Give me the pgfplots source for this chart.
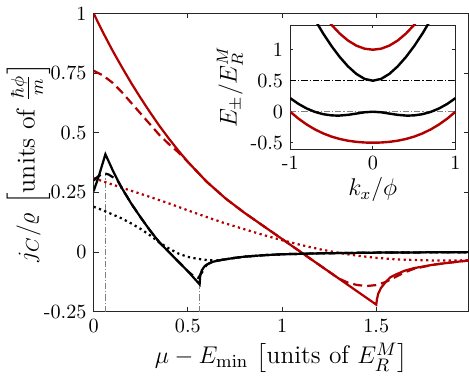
\documentclass[border=0pt]{standalone}
\usepackage{amsmath}
\usepackage{pgfplots}
\pgfplotsset{compat=1.18}
\definecolor{mred}{RGB}{178,0,0}
\definecolor{axgray}{RGB}{38,38,38}

\pgfplotsset{
  mstyle/.style={
    scale only axis, axis line style={axgray, line width=0.4pt},
    tick align=inside, tick pos=both,
    xticklabel pos=lower, yticklabel pos=left,
    major tick style={axgray, line width=0.4pt},
    label style={font=\large},
    every tick label/.append style={font=\normalsize},
  },
  dotline/.style={line width=1.1pt, dash pattern=on 1.1pt off 1.7pt},
  dashline/.style={line width=1.1pt, dash pattern=on 4.5pt off 2.5pt},
  solline/.style={line width=1.1pt},
  ddline/.style={line width=0.4pt, dash pattern=on 3pt off 1pt on 0.6pt off 1pt},
}

\begin{document}
\begin{tikzpicture}
\begin{axis}[mstyle,
  at={(0,0)}, anchor=south west,
  width=186pt, height=148pt,
  xmin=0, xmax=1.99, ymin=-0.25, ymax=1,
  major tick length=2.5pt,
  xtick={0,0.5,1,1.5}, xticklabels={0,0.5,1,1.5},
  ytick={-0.25,0,0.25,0.5,0.75,1}, yticklabels={-0.25,0,0.25,0.5,0.75,1},
  xlabel={$\mu-E_{\min}$ $\left[\text{units of } E_R^M\right]$},
  ylabel={$j_C/\varrho$ $\left[\text{units of } \frac{\hbar\phi}{m}\right]$},
  xlabel style={font=\fontsize{12.6}{15}\selectfont, yshift=2pt},
  ylabel style={font=\fontsize{12.8}{15}\selectfont, yshift=-10pt},
]
% vertical markers
\addplot[ddline, gray] coordinates {(0.0625,-0.25) (0.0625,0.33)};
\addplot[ddline, gray] coordinates {(0.5625,-0.25) (0.5625,-0.135)};

% red curves
\addplot[solline, mred] coordinates {
(0,1.0) (0.05,0.92) (0.1,0.845) (0.15,0.775) (0.2,0.708) (0.25,0.645)
(0.3,0.585) (0.35,0.528) (0.4,0.475) (0.45,0.425) (0.5,0.378) (0.6,0.295)
(0.7,0.225) (0.8,0.165) (0.9,0.11) (1.0,0.055) (1.1,0.0) (1.2,-0.055)
(1.3,-0.11) (1.4,-0.165) (1.5,-0.22) (1.503,-0.2) (1.51,-0.175)
(1.525,-0.15) (1.55,-0.125) (1.575,-0.105) (1.6,-0.095) (1.65,-0.078)
(1.7,-0.067) (1.8,-0.053) (1.9,-0.043) (1.99,-0.035)};
\addplot[dashline, mred] coordinates {
(0,0.76) (0.05,0.74) (0.1,0.71) (0.15,0.67) (0.2,0.625) (0.25,0.58)
(0.3,0.535) (0.35,0.49) (0.4,0.452) (0.45,0.418) (0.5,0.378) (0.6,0.295)
(0.7,0.225) (0.8,0.165) (0.9,0.11) (1.0,0.055) (1.1,0.0) (1.2,-0.055)
(1.3,-0.11) (1.35,-0.128) (1.4,-0.138) (1.45,-0.142) (1.5,-0.138)
(1.55,-0.125) (1.6,-0.105) (1.65,-0.085) (1.7,-0.07) (1.8,-0.053)
(1.9,-0.043) (1.99,-0.035)};
\addplot[dotline, mred] coordinates {
(0,0.31) (0.1,0.283) (0.2,0.257) (0.3,0.231) (0.4,0.204) (0.5,0.175)
(0.6,0.147) (0.7,0.12) (0.8,0.096) (0.9,0.072) (1.0,0.05) (1.1,0.03)
(1.2,0.012) (1.3,-0.003) (1.4,-0.015) (1.5,-0.024) (1.6,-0.03)
(1.7,-0.033) (1.8,-0.035) (1.9,-0.035) (1.99,-0.034)};

% black curves
\addplot[solline, black] coordinates {
(0,0.255) (0.03,0.325) (0.0625,0.41) (0.08,0.38) (0.1,0.345) (0.125,0.305)
(0.15,0.268) (0.2,0.203) (0.25,0.145) (0.3,0.09) (0.35,0.04) (0.4,0.0)
(0.45,-0.04) (0.5,-0.08) (0.5625,-0.135) (0.566,-0.095) (0.575,-0.075)
(0.59,-0.058) (0.61,-0.048) (0.63,-0.041) (0.67,-0.034) (0.7,-0.03)
(0.75,-0.024) (0.8,-0.019) (0.9,-0.013) (1.0,-0.009) (1.2,-0.005)
(1.5,-0.002) (1.75,-0.001) (1.99,0.0)};
\addplot[dashline, black] coordinates {
(0,0.30) (0.02,0.315) (0.04,0.325) (0.06,0.33) (0.08,0.325) (0.1,0.315)
(0.125,0.303) (0.15,0.268) (0.2,0.203) (0.25,0.145) (0.3,0.09) (0.35,0.04)
(0.4,0.0) (0.45,-0.04) (0.5,-0.08) (0.53,-0.1) (0.555,-0.108)
(0.575,-0.085) (0.6,-0.053) (0.63,-0.041) (0.67,-0.034) (0.7,-0.03)
(0.75,-0.024) (0.8,-0.019) (0.9,-0.013) (1.0,-0.009) (1.2,-0.005)
(1.5,-0.002) (1.75,-0.001) (1.99,0.0)};
\addplot[dotline, black] coordinates {
(0,0.19) (0.05,0.175) (0.1,0.158) (0.15,0.141) (0.2,0.12) (0.25,0.097)
(0.3,0.07) (0.35,0.04) (0.4,0.015) (0.45,-0.006) (0.5,-0.02) (0.55,-0.028)
(0.6,-0.033) (0.65,-0.035) (0.7,-0.03) (0.75,-0.024) (0.8,-0.019)
(0.9,-0.013) (1.0,-0.009) (1.2,-0.005) (1.5,-0.002) (1.75,-0.001) (1.99,0.0)};
\end{axis}

% inset
\begin{axis}[mstyle,
  at={(97.5pt,80.8pt)}, anchor=south west,
  width=82pt, height=61.5pt,
  axis background/.style={fill=white},
  xmin=-1, xmax=1, ymin=-0.6, ymax=1.4,
  major tick length=1.5pt,
  xtick={-1,0,1}, xticklabels={-1,0,1},
  ytick={-0.5,0,0.5,1}, yticklabels={-0.5,0,0.5,1},
  xlabel={$k_x/\phi$}, ylabel={$E_\pm/E_R^M$},
  xlabel style={yshift=3pt},
  ylabel style={yshift=-3pt},
]
\addplot[ddline, gray] coordinates {(-1,0) (1,0)};
\addplot[ddline, black] coordinates {(-1,0.5) (1,0.5)};
% red bands
\addplot[line width=1.2pt, mred] coordinates {
(-0.7,1.75591) (-0.6,1.57047) (-0.5,1.40139) (-0.4,1.26) (-0.3,1.14777)
(-0.2,1.06621) (-0.1,1.01664) (0,1) (0.1,1.01664) (0.2,1.06621)
(0.3,1.14777) (0.4,1.26) (0.5,1.40139) (0.6,1.57047) (0.7,1.75591)};
\addplot[line width=1.2pt, mred] coordinates {
(-1,0) (-0.9,-0.11154) (-0.8,-0.20659) (-0.7,-0.28591) (-0.6,-0.35047)
(-0.5,-0.40139) (-0.4,-0.44) (-0.3,-0.46777) (-0.2,-0.48621) (-0.1,-0.49664)
(0,-0.5) (0.1,-0.49664) (0.2,-0.48621) (0.3,-0.46777) (0.4,-0.44)
(0.5,-0.40139) (0.6,-0.35047) (0.7,-0.28591) (0.8,-0.20659) (0.9,-0.11154) (1,0)};
% black bands
\addplot[line width=1.2pt, black] coordinates {
(-0.8,1.72815) (-0.7,1.4833) (-0.6,1.26) (-0.5,1.05902) (-0.4,0.8817)
(-0.3,0.73051) (-0.2,0.61016) (-0.1,0.52926) (0,0.5) (0.1,0.52926)
(0.2,0.61016) (0.3,0.73051) (0.4,0.8817) (0.5,1.05902) (0.6,1.26)
(0.7,1.4833) (0.8,1.72815)};
\addplot[line width=1.2pt, black] coordinates {
(-1,0.21922) (-0.9,0.12592) (-0.8,0.05185) (-0.7,-0.0033) (-0.6,-0.04)
(-0.5,-0.05902) (-0.433,-0.0625) (-0.4,-0.0617) (-0.3,-0.05051) (-0.2,-0.03016)
(-0.1,-0.00926) (0,0) (0.1,-0.00926) (0.2,-0.03016) (0.3,-0.05051)
(0.4,-0.0617) (0.433,-0.0625) (0.5,-0.05902) (0.6,-0.04) (0.7,-0.0033)
(0.8,0.05185) (0.9,0.12592) (1,0.21922)};
\end{axis}
\end{tikzpicture}
\end{document}
